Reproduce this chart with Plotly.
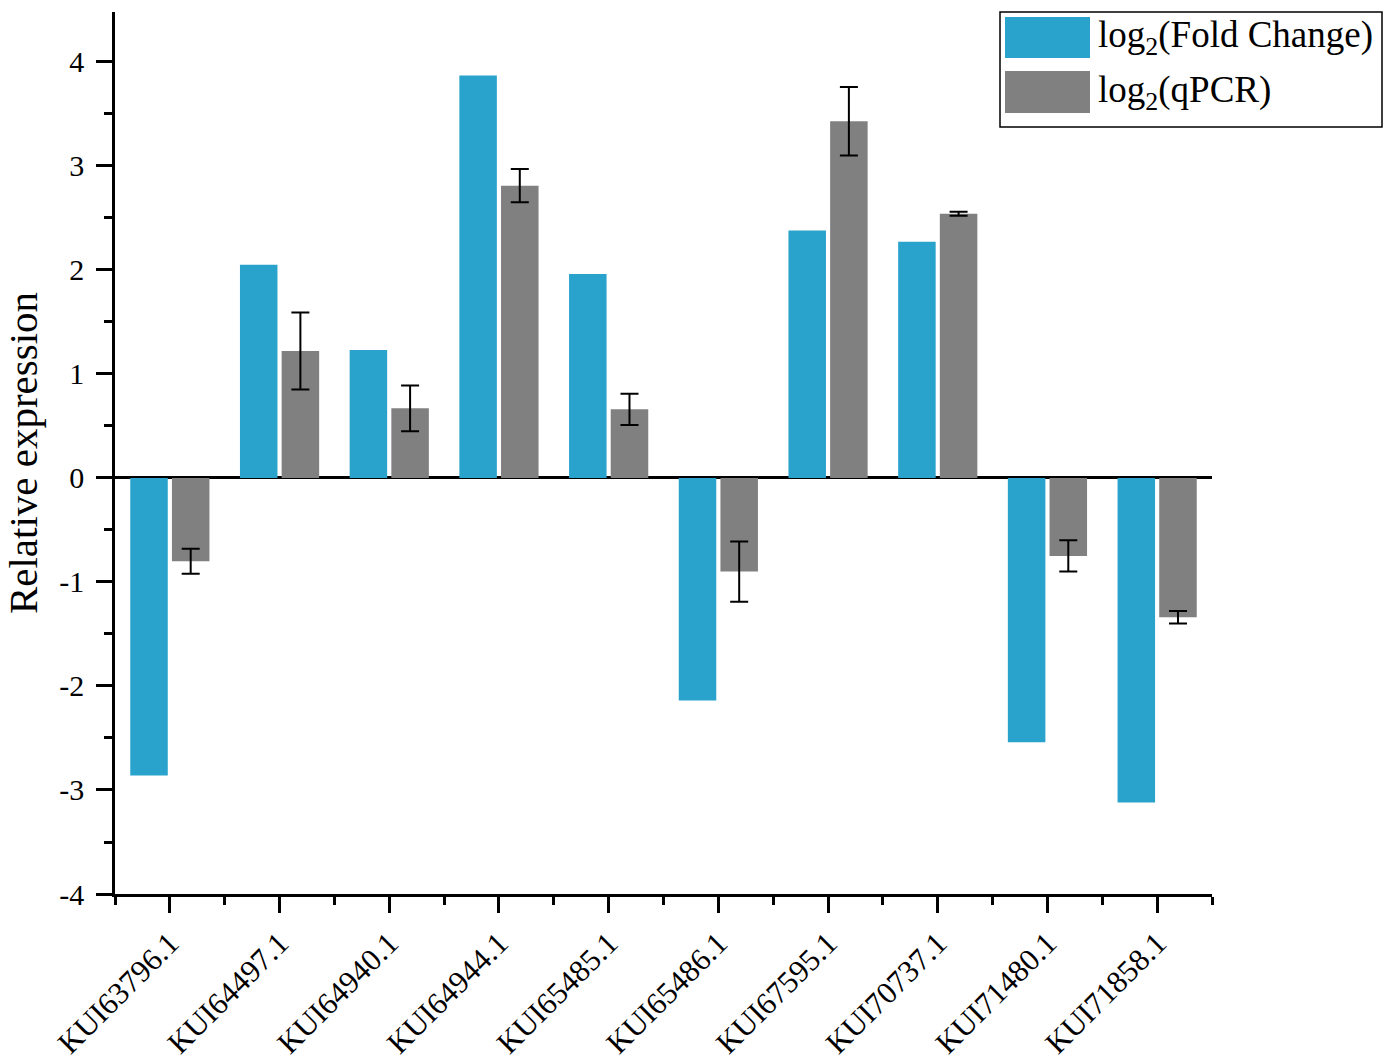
import plotly.graph_objects as go

# Gene accessions on the x axis
genes = ["KUI63796.1", "KUI64497.1", "KUI64940.1", "KUI64944.1", "KUI65485.1",
         "KUI65486.1", "KUI67595.1", "KUI70737.1", "KUI71480.1", "KUI71858.1"]

# RNA-seq log2 fold change
fold_change = [-2.86, 2.05, 1.23, 3.87, 1.96, -2.14, 2.38, 2.27, -2.54, -3.12]

# qPCR log2 relative expression with standard deviation
qpcr = [-0.80, 1.22, 0.67, 2.81, 0.66, -0.90, 3.43, 2.54, -0.75, -1.34]
qpcr_err = [0.12, 0.37, 0.22, 0.16, 0.15, 0.29, 0.33, 0.02, 0.15, 0.06]

y_ticks = [-4, -3, -2, -1, 0, 1, 2, 3, 4]
y_tick_text = ["-4", "-3", "-2", "-1", "0", "1", "2", "3", "4"]

BLUE = "#2AA3CC"
GRAY = "#808080"
FONT = "Liberation Serif"

W, H = 1393, 1064
L, R, T, B = 115, 181, 12, 170
plot_w = W - L - R
plot_h = H - T - B

def px_x(px):
    return (px - L) / plot_w

def px_y(py):
    return (H - B - py) / plot_h

x_pos = list(range(len(genes)))

fig = go.Figure()
fig.add_trace(go.Bar(
    x=x_pos, y=fold_change, name="log2(Fold Change)",
    marker=dict(color=BLUE, line=dict(width=0)),
    showlegend=False,
))
fig.add_trace(go.Bar(
    x=x_pos, y=qpcr, name="log2(qPCR)",
    marker=dict(color=GRAY, line=dict(width=0)),
    error_y=dict(type="data", array=qpcr_err, visible=True,
                 color="black", thickness=2, width=9),
    showlegend=False,
))

fig.update_layout(
    width=W, height=H,
    margin=dict(l=L, r=R, t=T, b=B, autoexpand=False),
    paper_bgcolor="white", plot_bgcolor="white",
    barmode="group", bargap=0.24, bargroupgap=0.1,
    font=dict(family=FONT, color="black"),
    xaxis=dict(
        range=[-0.5, len(genes) - 0.5],
        tickvals=x_pos, ticktext=genes, tickangle=-45,
        tickfont=dict(size=31, family=FONT, color="black"),
        automargin=False,
        showline=True, linecolor="black", linewidth=2.5,
        ticks="outside", ticklen=16, tickwidth=2.5, tickcolor="black",
        minor=dict(tick0=-0.5, dtick=1, ticks="outside", ticklen=8,
                   tickwidth=2.5, tickcolor="black"),
        showgrid=False, zeroline=False,
    ),
    yaxis=dict(
        range=[-4, 4.48],
        tickvals=y_ticks, ticktext=y_tick_text,
        tickfont=dict(size=30, family=FONT, color="black"),
        ticklabelstandoff=6,
        automargin=False,
        showline=True, linecolor="black", linewidth=2.5,
        ticks="outside", ticklen=16, tickwidth=2.5, tickcolor="black",
        minor=dict(dtick=0.5, tick0=0, ticks="outside", ticklen=8,
                   tickwidth=2.5, tickcolor="black"),
        showgrid=False,
        zeroline=True, zerolinecolor="black", zerolinewidth=2.5,
        title=dict(text="Relative expression",
                   font=dict(size=41, family=FONT, color="black"),
                   standoff=18),
    ),
)

# Legend box with large colour swatches
fig.add_shape(type="rect", xref="paper", yref="paper",
              x0=px_x(1000), x1=px_x(1382), y0=px_y(127), y1=px_y(12),
              line=dict(color="black", width=1.5), fillcolor="white")
legend_items = [("log<sub>2</sub>(Fold Change)", BLUE, 17, 58),
                ("log<sub>2</sub>(qPCR)", GRAY, 71, 113)]
for label, color, top, bottom in legend_items:
    fig.add_shape(type="rect", xref="paper", yref="paper",
                  x0=px_x(1005), x1=px_x(1090), y0=px_y(bottom), y1=px_y(top),
                  line=dict(width=0), fillcolor=color)
    fig.add_annotation(xref="paper", yref="paper",
                       x=px_x(1096), y=px_y((top + bottom) / 2),
                       xanchor="left", yanchor="middle", showarrow=False,
                       text=label, font=dict(size=37, family=FONT, color="black"))

fig.write_html("out.html")
